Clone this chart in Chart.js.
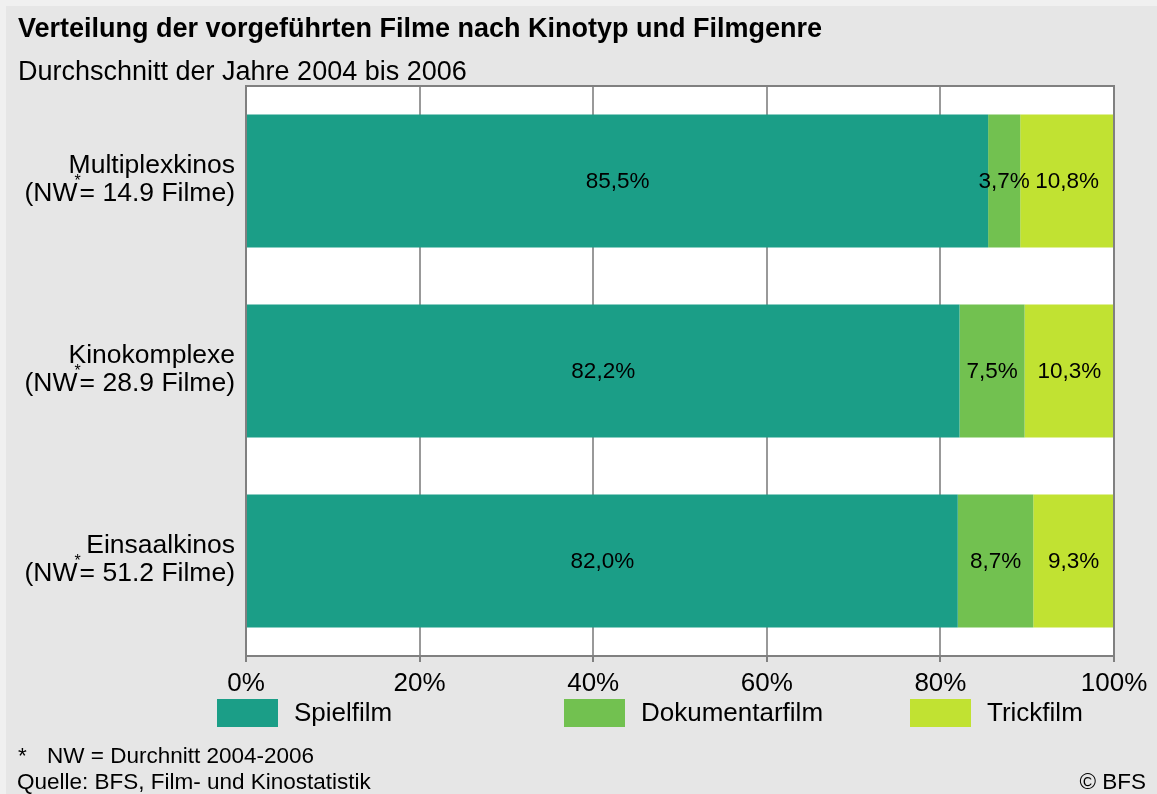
<!DOCTYPE html>
<html>
<head>
<meta charset="utf-8">
<script src="https://cdn.jsdelivr.net/npm/chart.js@4"></script>
<style>
  body { margin: 0; background: #e6e6e6; font-family: "Liberation Sans", Arial, sans-serif; }
  #wrap { position: relative; width: 1157px; height: 794px; overflow: hidden; background: #e6e6e6; }
  .strip { position: absolute; background: #f0f0f0; }
  #chart { position: absolute; left: 0; top: 0; }
  .txt { position: absolute; white-space: nowrap; color: #000; }
  #title { left: 18px; top: 13px; font-size: 27px; font-weight: bold; }
  #subtitle { left: 18px; top: 56px; font-size: 27px; }
  .legend-item { position: absolute; top: 699px; height: 28px; }
  .legend-box { position: absolute; left: 0; top: 0; width: 61px; height: 28px; }
  .legend-label { position: absolute; left: 77px; top: -2px; font-size: 26px; white-space: nowrap; }
  #note1a { left: 18px; top: 743px; font-size: 22.5px; }
  #note1 { left: 47px; top: 743px; font-size: 22.5px; }
  #note2 { left: 17px; top: 769px; font-size: 22.5px; }
  #copy { right: 11px; top: 769px; font-size: 22.5px; }
</style>
</head>
<body>
<div id="wrap">
  <div class="strip" style="left:0;top:0;width:1157px;height:6px"></div>
  <div class="strip" style="left:0;top:0;width:6px;height:794px"></div>
  <canvas id="chart" width="1157" height="794"></canvas>
  <div class="txt" id="title">Verteilung der vorgeführten Filme nach Kinotyp und Filmgenre</div>
  <div class="txt" id="subtitle">Durchschnitt der Jahre 2004 bis 2006</div>
  <div id="legend"></div>
  <div class="txt" id="note1a">*</div>
  <div class="txt" id="note1">NW = Durchnitt 2004-2006</div>
  <div class="txt" id="note2">Quelle: BFS, Film- und Kinostatistik</div>
  <div class="txt" id="copy">© BFS</div>
</div>
<script>
// Kinotypen (y-Achse)
const kinotypen = ['Multiplexkinos', 'Kinokomplexe', 'Einsaalkinos'];
const filmeNW = ['14.9', '28.9', '51.2'];

// Anteile in Prozent je Filmgenre
const genres = ['Spielfilm', 'Dokumentarfilm', 'Trickfilm'];
const spielfilm = [85.5, 82.2, 82.0];
const dokumentarfilm = [3.7, 7.5, 8.7];
const trickfilm = [10.8, 10.3, 9.3];
const farben = ['#1b9e87', '#72c150', '#c1e232'];

const xTicks = [0, 20, 40, 60, 80, 100];

// legend (built from the series names)
const legendLeft = [217, 564, 910];
const legend = document.getElementById('legend');
genres.forEach((g, i) => {
    const item = document.createElement('div');
    item.className = 'legend-item';
    item.style.left = legendLeft[i] + 'px';
    item.innerHTML = '<div class="legend-box" style="background:' + farben[i] + '"></div>' +
        '<div class="legend-label">' + g + '</div>';
    legend.appendChild(item);
});

// labels inside the bars
const valueLabels = {
    id: 'valueLabels',
    afterDatasetsDraw(chart) {
        const ctx = chart.ctx;
        ctx.save();
        ctx.font = '22.5px "Liberation Sans", Arial, sans-serif';
        ctx.fillStyle = '#000';
        ctx.textAlign = 'center';
        ctx.textBaseline = 'middle';
        chart.data.datasets.forEach((ds, di) => {
            const meta = chart.getDatasetMeta(di);
            meta.data.forEach((bar, i) => {
                const txt = ds.data[i].toFixed(1).replace('.', ',') + '%';
                ctx.fillText(txt, (bar.x + bar.base) / 2, bar.y + 1);
            });
        });
        ctx.restore();
    }
};

// frame around the plot and two-line category labels
const frameAndLabels = {
    id: 'frameAndLabels',
    afterDraw(chart) {
        const ctx = chart.ctx;
        const a = chart.chartArea;
        ctx.save();
        ctx.strokeStyle = '#808080';
        ctx.lineWidth = 2;
        ctx.strokeRect(a.left, a.top, a.right - a.left, a.bottom - a.top);

        const yScale = chart.scales.y;
        const right = 235;
        const big = '26.5px "Liberation Sans", Arial, sans-serif';
        ctx.fillStyle = '#000';
        ctx.textBaseline = 'middle';
        kinotypen.forEach((k, i) => {
            const y = yScale.getPixelForValue(i);
            ctx.font = big;
            ctx.textAlign = 'right';
            ctx.fillText(k, right, y - 15);
            // second line: (NW* = xx Filme) with raised asterisk
            const p1 = '(NW';
            const p3 = '= ' + filmeNW[i] + ' Filme)';
            const w1 = ctx.measureText(p1).width;
            const w3 = ctx.measureText(p3).width;
            ctx.font = '16px "Liberation Sans", Arial, sans-serif';
            const w2 = ctx.measureText('*').width - 4;
            const start = right - w1 - w2 - w3;
            ctx.textAlign = 'left';
            ctx.fillText('*', start + w1 - 3, y + 1);
            ctx.font = big;
            ctx.fillText(p1, start, y + 13);
            ctx.fillText(p3, start + w1 + w2, y + 13);
        });
        ctx.restore();
    }
};

const ctx = document.getElementById('chart').getContext('2d');
new Chart(ctx, {
    type: 'bar',
    data: {
        labels: kinotypen,
        datasets: [
            { label: genres[0], data: spielfilm, backgroundColor: farben[0] },
            { label: genres[1], data: dokumentarfilm, backgroundColor: farben[1] },
            { label: genres[2], data: trickfilm, backgroundColor: farben[2] }
        ]
    },
    options: {
        indexAxis: 'y',
        responsive: false,
        animation: false,
        datasets: {
            bar: { categoryPercentage: 1, barPercentage: 0.7 }
        },
        layout: { padding: { left: 246, top: 86, right: 43, bottom: 0 } },
        plugins: {
            legend: { display: false },
            tooltip: { enabled: false }
        },
        scales: {
            x: {
                stacked: true,
                min: 0,
                max: 100,
                afterBuildTicks(scale) { scale.ticks = xTicks.map(v => ({ value: v })); },
                afterFit(scale) { scale.height = 138; },
                ticks: {
                    callback: v => v + '%',
                    color: '#000',
                    padding: 6,
                    maxRotation: 0,
                    font: { family: '"Liberation Sans", Arial, sans-serif', size: 26 }
                },
                grid: { color: '#999999', lineWidth: 2, tickLength: 6, tickColor: '#808080' },
                border: { color: '#808080', width: 2 }
            },
            y: {
                stacked: true,
                afterFit(scale) { scale.width = 0; },
                ticks: { display: false },
                grid: { display: false },
                border: { display: false }
            }
        }
    },
    plugins: [{
        id: 'whiteBg',
        beforeDraw(chart) {
            const a = chart.chartArea;
            chart.ctx.save();
            chart.ctx.fillStyle = '#ffffff';
            chart.ctx.fillRect(a.left, a.top, a.right - a.left, a.bottom - a.top);
            chart.ctx.restore();
        }
    }, valueLabels, frameAndLabels]
});
</script>
</body>
</html>
